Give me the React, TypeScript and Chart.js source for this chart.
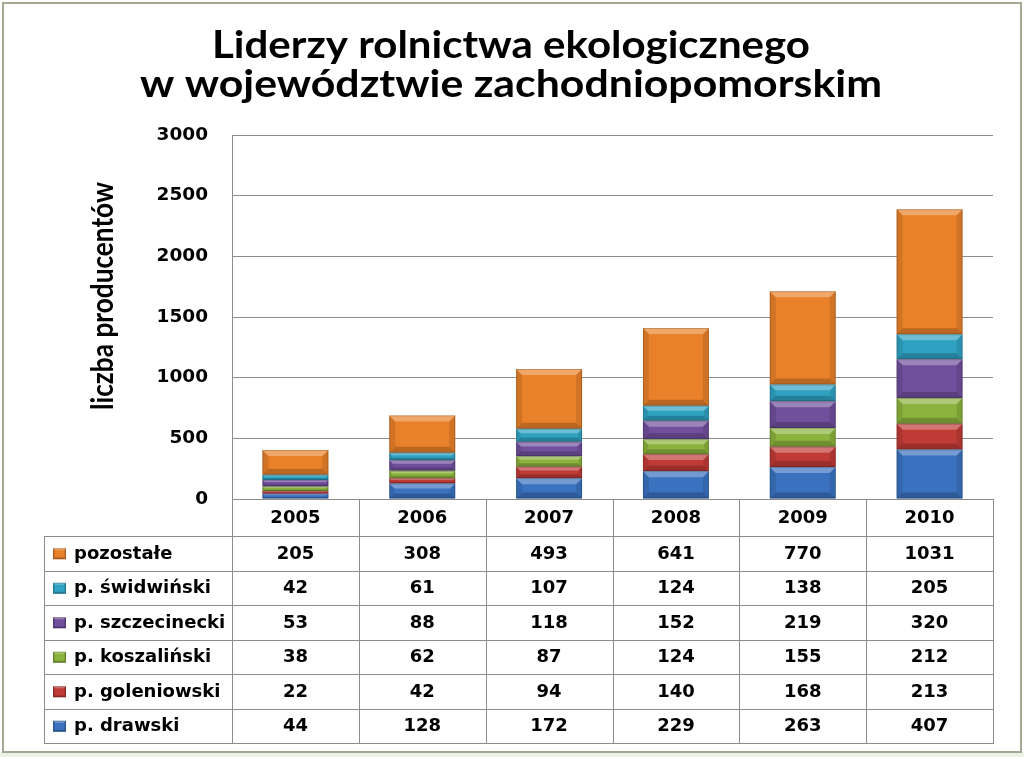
import { useEffect, useRef } from "react";
import { Chart, registerables } from "chart.js";

Chart.register(...registerables);

const titleLines = ["Liderzy rolnictwa ekologicznego", "w województwie zachodniopomorskim"];
const yAxisTitle = "liczba producentów";
const years = ["2005", "2006", "2007", "2008", "2009", "2010"];
const drawski = [44, 128, 172, 229, 263, 407];
const goleniowski = [22, 42, 94, 140, 168, 213];
const koszalinski = [38, 62, 87, 124, 155, 212];
const szczecinecki = [53, 88, 118, 152, 219, 320];
const swidwinski = [42, 61, 107, 124, 138, 205];
const pozostale = [205, 308, 493, 641, 770, 1031];
const seriesNames = ["p. drawski", "p. goleniowski", "p. koszaliński", "p. szczecinecki", "p. świdwiński", "pozostałe"];
const seriesColors = ["#3a72bf", "#c03a36", "#8cb33d", "#704f9c", "#2fa2c2", "#e9812a"];
const yMin = 0;
const yMax = 3000;
const yStep = 500;

const W = 1024;
const H = 757;
const TABLE_FONT = "bold 18px 'DejaVu Sans', Verdana, sans-serif";
const LINE = "#8c8c8c";

function bevel(ctx: CanvasRenderingContext2D, left: number, top: number, w: number, h: number, maxB: number) {
  const b = Math.max(1, Math.min(maxB, h / 3, w / 4));
  const r = left + w;
  const bt = top + h;
  ctx.save();
  ctx.fillStyle = "rgba(255,255,255,0.3)";
  ctx.beginPath();
  ctx.moveTo(left, top); ctx.lineTo(r, top); ctx.lineTo(r - b, top + b); ctx.lineTo(left + b, top + b); ctx.closePath();
  ctx.fill();
  ctx.fillStyle = "rgba(0,0,0,0.2)";
  ctx.beginPath();
  ctx.moveTo(left, bt); ctx.lineTo(r, bt); ctx.lineTo(r - b, bt - b); ctx.lineTo(left + b, bt - b); ctx.closePath();
  ctx.fill();
  ctx.fillStyle = "rgba(0,0,0,0.1)";
  ctx.beginPath();
  ctx.moveTo(left, top); ctx.lineTo(left + b, top + b); ctx.lineTo(left + b, bt - b); ctx.lineTo(left, bt); ctx.closePath();
  ctx.fill();
  ctx.beginPath();
  ctx.moveTo(r, top); ctx.lineTo(r - b, top + b); ctx.lineTo(r - b, bt - b); ctx.lineTo(r, bt); ctx.closePath();
  ctx.fill();
  ctx.strokeStyle = "rgba(0,0,0,0.18)";
  ctx.lineWidth = 1;
  ctx.strokeRect(left + 0.5, top + 0.5, w - 1, h - 1);
  ctx.restore();
}

function fitText(ctx: CanvasRenderingContext2D, text: string, x: number, y: number, targetW: number) {
  const m = ctx.measureText(text).width;
  const s = targetW / m;
  ctx.save();
  ctx.translate(x, y);
  ctx.scale(s, 1);
  ctx.fillText(text, 0, 0);
  ctx.restore();
}

const decorPlugin = {
  id: "decor",
  beforeDraw(chart: any) {
    const ctx = chart.ctx as CanvasRenderingContext2D;
    ctx.save();
    ctx.fillStyle = "#ffffff";
    ctx.fillRect(0, 0, W, H);
    ctx.fillStyle = "#eef2e2";
    ctx.fillRect(0, 752, W, H - 752);
    ctx.strokeStyle = "#a3a794";
    ctx.lineWidth = 2;
    ctx.strokeRect(3, 3, 1018, 749);
    ctx.restore();
  },
  afterDatasetsDraw(chart: any) {
    const ctx = chart.ctx as CanvasRenderingContext2D;
    chart.data.datasets.forEach((_: any, di: number) => {
      const meta = chart.getDatasetMeta(di);
      meta.data.forEach((el: any) => {
        const p = el.getProps(["x", "y", "base", "width"], true);
        const top = Math.min(p.y, p.base);
        const h = Math.abs(p.base - p.y);
        bevel(ctx, p.x - p.width / 2, top, p.width, h, 6);
      });
    });
  },
  afterDraw(chart: any) {
    const ctx = chart.ctx as CanvasRenderingContext2D;
    const area = chart.chartArea;
    const xs = chart.scales.x;
    ctx.save();
    // title
    ctx.fillStyle = "#000";
    ctx.textAlign = "center";
    ctx.textBaseline = "alphabetic";
    ctx.font = "bold 38px Lato, 'Open Sans', sans-serif";
    fitText(ctx, titleLines[0], 511, 58, 598);
    fitText(ctx, titleLines[1], 511, 97, 742);
    // y axis title
    ctx.save();
    ctx.translate(113, 296);
    ctx.rotate(-Math.PI / 2);
    ctx.font = "bold 31px Lato, 'Open Sans', sans-serif";
    fitText(ctx, yAxisTitle, 0, 0, 228);
    ctx.restore();

    // data table
    const n = years.length;
    const colW = (area.right - area.left) / n;
    const headerTop = area.bottom;
    const headerBottom = headerTop + 37;
    const rowH = 34.5;
    const legendLeft = 44;
    const rows = chart.data.datasets.slice().reverse();
    const tableBottom = headerBottom + rowH * rows.length;
    ctx.strokeStyle = LINE;
    ctx.lineWidth = 1;
    ctx.beginPath();
    for (let i = 0; i <= n; i++) {
      const x = Math.round(xs.getPixelForValue(Math.min(i, n - 1)) + (i === n ? colW / 2 : -colW / 2)) + 0.5;
      ctx.moveTo(x, headerTop);
      ctx.lineTo(x, tableBottom);
    }
    ctx.moveTo(legendLeft + 0.5, headerBottom);
    ctx.lineTo(legendLeft + 0.5, tableBottom);
    for (let r = 0; r <= rows.length; r++) {
      const y = Math.round(headerBottom + r * rowH) + 0.5;
      ctx.moveTo(legendLeft, y);
      ctx.lineTo(area.right + 1, y);
    }
    ctx.stroke();

    ctx.font = TABLE_FONT;
    ctx.fillStyle = "#000";
    ctx.textBaseline = "middle";
    ctx.textAlign = "center";
    years.forEach((yr, i) => {
      ctx.fillText(yr, xs.getPixelForValue(i), (headerTop + headerBottom) / 2 + 1);
    });
    rows.forEach((ds: any, r: number) => {
      const cy = headerBottom + r * rowH + rowH / 2 + 1;
      ctx.fillStyle = ds.backgroundColor;
      ctx.fillRect(53, cy - 6, 13, 11);
      bevel(ctx, 53, cy - 6, 13, 11, 2);
      ctx.fillStyle = "#000";
      ctx.textAlign = "left";
      ctx.fillText(ds.label, 74, cy);
      ctx.textAlign = "center";
      ds.data.forEach((v: number, i: number) => {
        ctx.fillText(String(v), xs.getPixelForValue(i), cy);
      });
    });
    ctx.restore();
  },
};

export default function App() {
  const ref = useRef<HTMLCanvasElement | null>(null);
  useEffect(() => {
    if (!ref.current) return;
    const values = [drawski, goleniowski, koszalinski, szczecinecki, swidwinski, pozostale];
    const chart = new Chart(ref.current, {
      type: "bar",
      data: {
        labels: years,
        datasets: values.map((d, i) => ({
          label: seriesNames[i],
          data: d,
          backgroundColor: seriesColors[i],
          borderWidth: 0,
          categoryPercentage: 1,
          barPercentage: 0.52,
        })),
      },
      options: {
        animation: false,
        responsive: false,
        devicePixelRatio: 1,
        layout: { padding: { top: 135, left: 0, right: 31, bottom: 258 } },
        plugins: {
          legend: { display: false },
          title: { display: false },
          tooltip: { enabled: false },
        },
        scales: {
          x: { stacked: true, display: false },
          y: {
            stacked: true,
            min: yMin,
            max: yMax,
            ticks: {
              stepSize: yStep,
              padding: 24,
              color: "#000",
              font: { family: "'DejaVu Sans', Verdana, sans-serif", weight: "bold", size: 18.5 },
              callback: (v: any) => String(v),
            },
            grid: { color: LINE, drawTicks: false, lineWidth: 1 },
            border: { display: true, color: LINE },
            afterFit: (s: any) => {
              s.width = 232;
            },
          },
        },
      },
      plugins: [decorPlugin],
    });
    return () => chart.destroy();
  }, []);
  return (
    <div style={{ position: "absolute", left: 0, top: 0, width: W, height: H }}>
      <canvas ref={ref} width={W} height={H} style={{ width: W, height: H, display: "block" }} />
    </div>
  );
}
